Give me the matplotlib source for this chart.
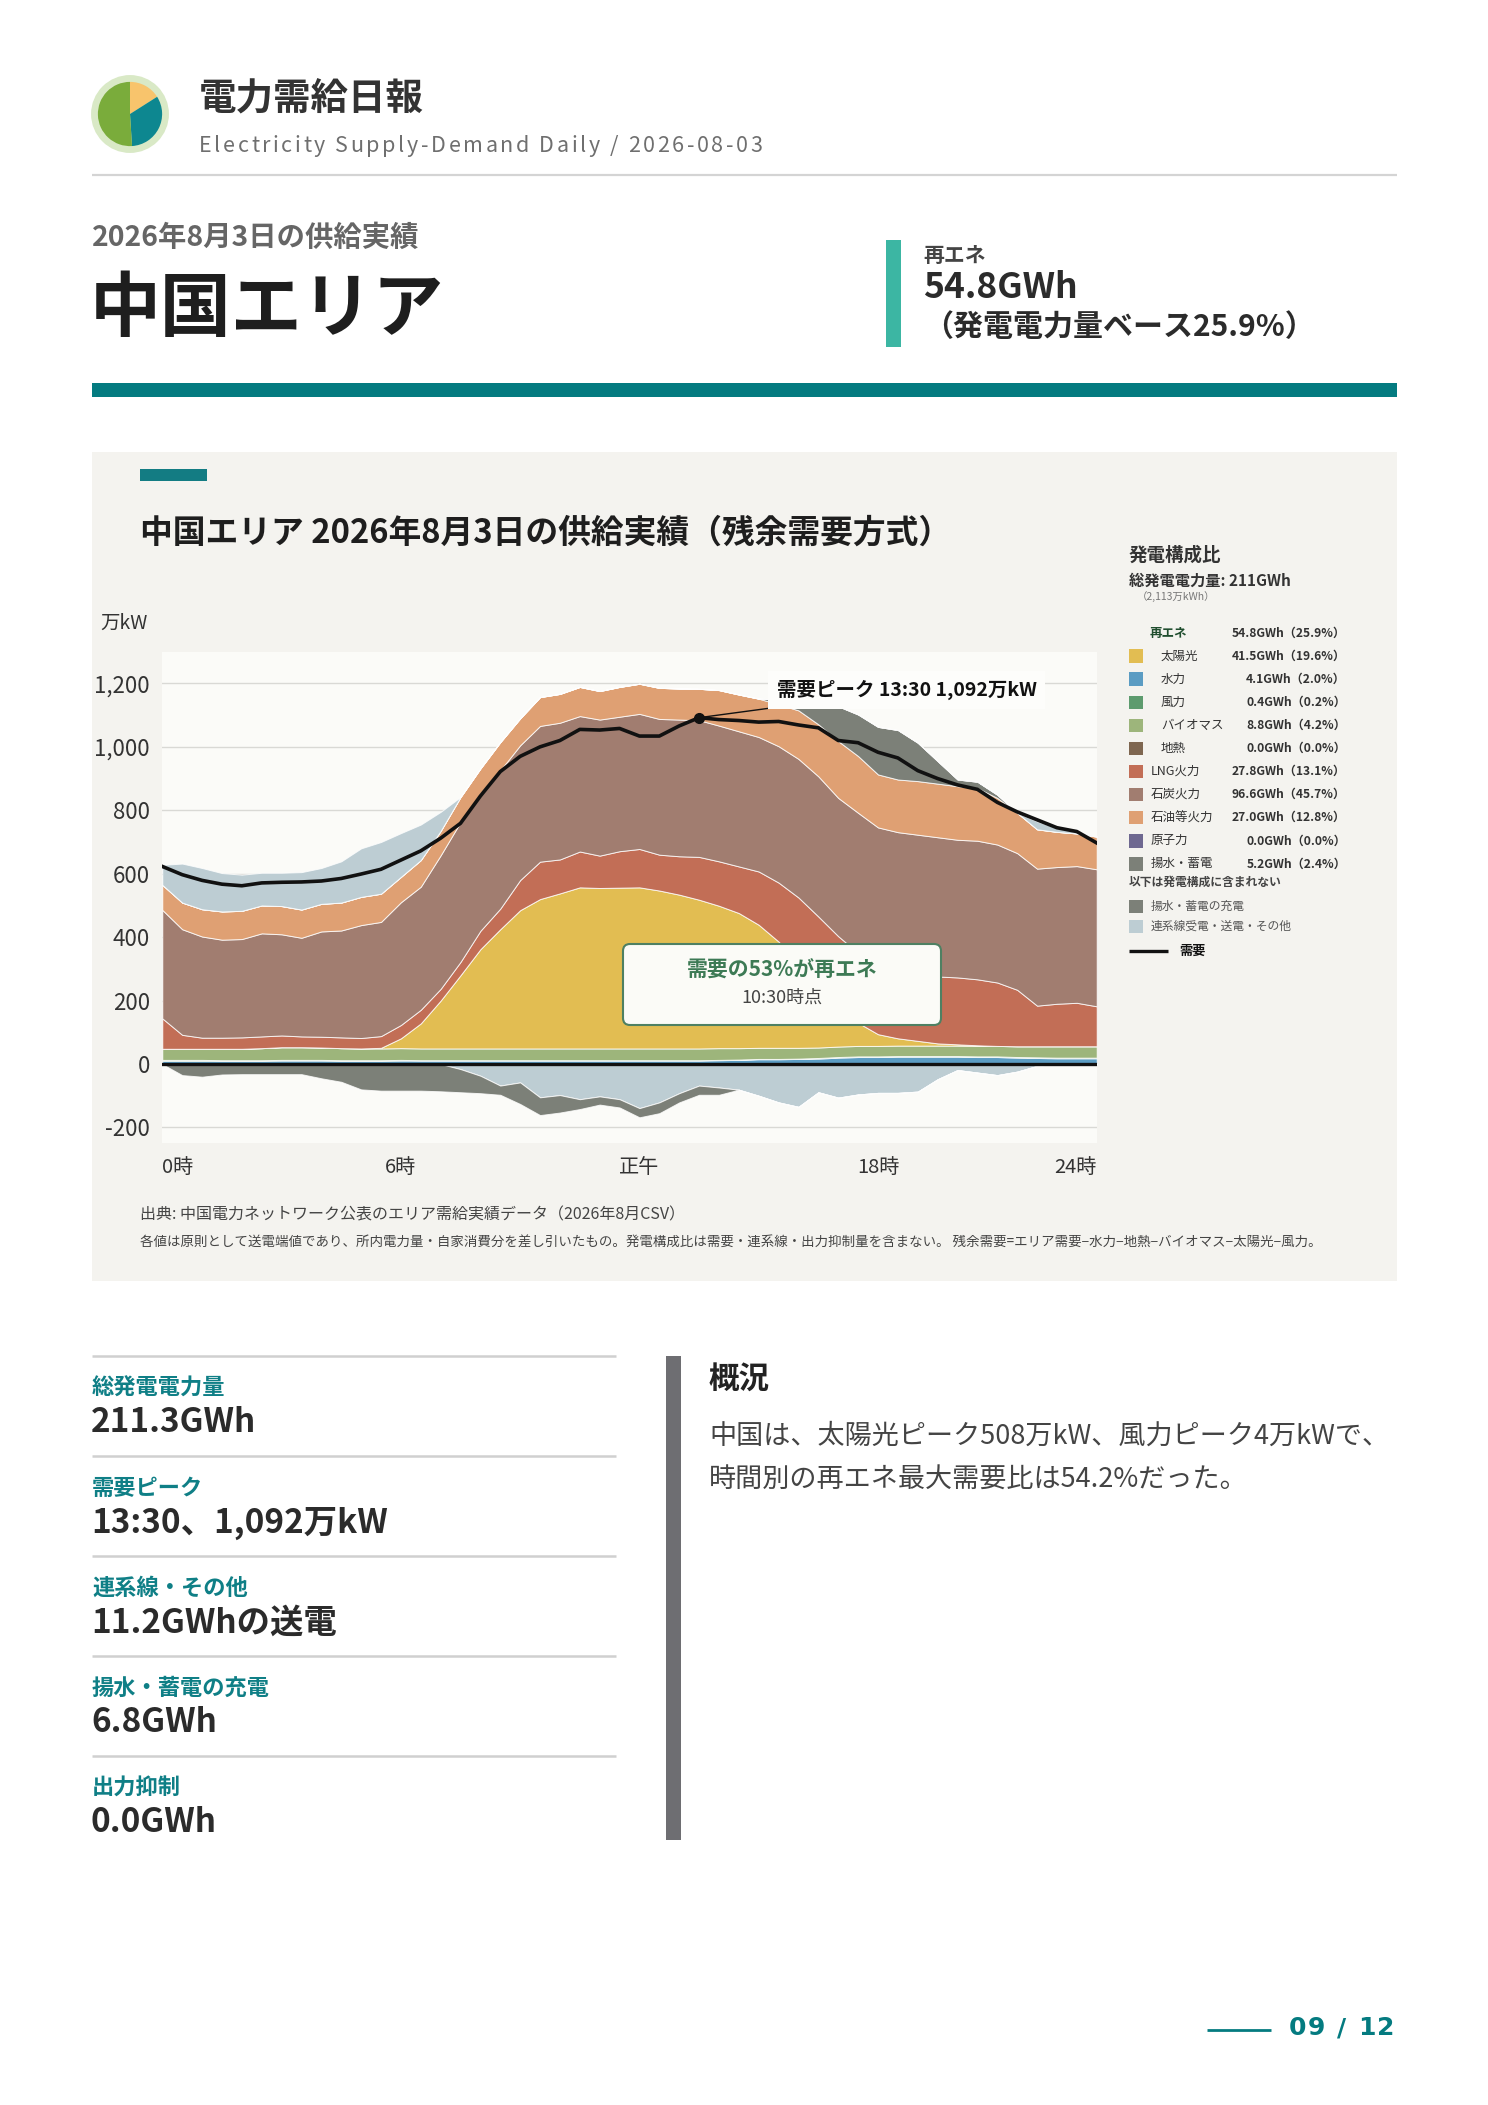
import numpy as np
import matplotlib
matplotlib.use("Agg")
import matplotlib.pyplot as plt
from matplotlib.patches import Rectangle, FancyBboxPatch, Circle
from matplotlib.lines import Line2D
from matplotlib.transforms import IdentityTransform

plt.rcParams['font.family'] = ['Noto Sans CJK JP', 'DejaVu Sans']

# ---------------------------------------------------------------------
# データ (万kW, 30分値 0:00〜23:30)
# ---------------------------------------------------------------------
demand = [623, 597, 579, 567, 562, 571, 573, 574, 577, 585, 599, 614,
          643, 672, 712, 759, 845, 922, 970, 1000, 1020, 1055, 1053, 1058,
          1034, 1034, 1066, 1092, 1086, 1083, 1078, 1080, 1069, 1060, 1020, 1013,
          983, 965, 925, 900, 880, 866, 825, 795, 770, 745, 733, 697]

hydro = [10, 10, 10, 10, 10, 10, 11, 11, 11, 10, 10, 10,
         11, 11, 11, 11, 11, 11, 11, 11, 11, 11, 11, 11,
         11, 11, 11, 11, 12, 13, 15, 15, 16, 17, 20, 22,
         22, 23, 23, 23, 23, 22, 22, 20, 19, 18, 18, 18]
wind = [3, 3, 3, 2, 2, 2, 2, 2, 2, 2, 2, 2,
        2, 1, 1, 1, 1, 1, 1, 1, 1, 1, 1, 1,
        1, 1, 1, 1, 1, 1, 1, 1, 1, 2, 2, 2,
        2, 2, 2, 2, 2, 2, 2, 2, 2, 2, 2, 2]
biomass = [35, 35, 35, 36, 36, 38, 40, 40, 39, 38, 37, 37,
           37, 37, 37, 37, 37, 37, 37, 37, 37, 37, 37, 37,
           37, 37, 37, 37, 37, 36, 35, 35, 34, 33, 33, 33,
           33, 33, 33, 33, 33, 33, 33, 34, 35, 36, 36, 36]
geothermal = [0] * 48
solar = [0, 0, 0, 0, 0, 0, 0, 0, 0, 0, 0, 2,
         31, 79, 151, 231, 313, 376, 436, 471, 489, 508, 506, 507,
         508, 498, 485, 469, 449, 426, 388, 335, 269, 198, 130, 73,
         37, 23, 15, 7, 4, 2, 0, 0, 0, 0, 0, 0]
lng = [96, 44, 35, 35, 36, 37, 37, 34, 34, 34, 33, 37,
       42, 43, 37, 42, 58, 65, 95, 118, 107, 113, 102, 115,
       121, 113, 121, 135, 140, 147, 168, 186, 205, 215, 218, 220,
       221, 214, 210, 211, 211, 208, 200, 178, 128, 134, 137, 126]
coal = [342, 333, 319, 309, 310, 325, 319, 311, 332, 337, 356, 360,
        387, 388, 421, 441, 434, 436, 425, 428, 431, 427, 429, 424,
        426, 428, 431, 431, 428, 426, 424, 430, 437, 442, 436, 442,
        431, 436, 440, 439, 434, 437, 435, 431, 432, 431, 431, 432]
oil = [79, 84, 86, 89, 89, 88, 89, 89, 87, 88, 89, 89,
       80, 84, 77, 79, 78, 89, 85, 91, 91, 92, 90, 94,
       95, 98, 98, 99, 112, 116, 121, 132, 153, 164, 179, 179,
       167, 166, 169, 169, 169, 166, 147, 127, 124, 111, 103, 103]
nuclear = [0] * 48
pump_gen = [0, 0, 0, 0, 0, 0, 0, 0, 0, 0, 0, 0,
            0, 0, 0, 0, 0, 0, 0, 0, 0, 0, 0, 0,
            0, 0, 0, 0, 0, 0, 0, 15, 89, 78, 110, 131,
            150, 156, 121, 71, 21, 20, 10, 0, 0, 0, 0, 0]
link_in = [63, 123, 130, 121, 114, 103, 105, 118, 113, 130, 153, 163,
           138, 112, 60, 0, 0, 0, 0, 0, 0, 0, 0, 0,
           0, 0, 0, 0, 0, 0, 0, 0, 0, 0, 0, 0,
           0, 0, 0, 0, 0, 0, 0, 0, 25, 12, 5, 0]
link_out = [0, 0, 0, 0, 0, 0, 0, 0, 0, 0, 0, 0,
            0, 0, 0, -16, -37, -68, -58, -105, -98, -111, -102, -111,
            -139, -121, -92, -68, -74, -81, -100, -121, -135, -89, -106, -96,
            -91, -91, -87, -48, -19, -27, -35, -24, -6, 0, 0, 0]
pump_charge = [0, -35, -40, -33, -32, -32, -32, -32, -45, -56, -80, -84,
               -84, -84, -86, -73, -55, -29, -68, -56, -55, -31, -26, -26,
               -29, -34, -29, -29, -23, 0, 0, 0, 0, 0, 0, 0,
               0, 0, 0, 0, 0, 0, 0, 0, 0, 0, 0, 0]

tick_idx = [0, 12, 24, 36, 47]
tick_labels = ['0時', '6時', '正午', '18時', '24時']
y_ticks = [-200, 0, 200, 400, 600, 800, 1000, 1200]

legend_names = ['太陽光', '水力', '風力', 'バイオマス', '地熱',
                'LNG火力', '石炭火力', '石油等火力', '原子力', '揚水・蓄電']
legend_values = ['41.5GWh（19.6%）', '4.1GWh（2.0%）', '0.4GWh（0.2%）',
                 '8.8GWh（4.2%）', '0.0GWh（0.0%）', '27.8GWh（13.1%）',
                 '96.6GWh（45.7%）', '27.0GWh（12.8%）', '0.0GWh（0.0%）',
                 '5.2GWh（2.4%）']
legend_renew = [True, True, True, True, True, False, False, False, False, False]

kpi_labels = ['総発電電力量', '需要ピーク', '連系線・その他', '揚水・蓄電の充電', '出力抑制']
kpi_values = ['211.3GWh', '13:30、1,092万kW', '11.2GWhの送電', '6.8GWh', '0.0GWh']

logo_share = [16, 33, 51]

# 色
C_SOLAR = '#e2bd52'
C_HYDRO = '#5b9cc3'
C_WIND = '#5d9b6e'
C_BIO = '#9db57b'
C_GEO = '#7e6650'
C_LNG = '#c26e56'
C_COAL = '#a17d70'
C_OIL = '#dfa073'
C_NUC = '#6e6890'
C_PUMP = '#7c8078'
C_LINK = '#bdcdd3'
TEAL = '#047b80'

legend_colors = [C_SOLAR, C_HYDRO, C_WIND, C_BIO, C_GEO,
                 C_LNG, C_COAL, C_OIL, C_NUC, C_PUMP]

# ---------------------------------------------------------------------
# ページ
# ---------------------------------------------------------------------
W, H = 1488, 2105
fig = plt.figure(figsize=(W / 100, H / 100), dpi=100)
fig.patch.set_facecolor('white')
PX = IdentityTransform()


def fx(x):
    return x / W


def fy(y):
    return 1 - y / H


def put(x, y, s, size, color='#333333', weight='normal', ha='left', va='center', **kw):
    return fig.text(fx(x), fy(y), s, fontsize=size, color=color,
                    fontweight=weight, ha=ha, va=va, **kw)


def rect(x0, y0, x1, y1, color, z=0):
    fig.add_artist(Rectangle((x0, H - y1), x1 - x0, y1 - y0, transform=PX,
                             facecolor=color, edgecolor='none', zorder=z))


def hline(x0, x1, y, color, lw, z=1):
    fig.add_artist(Line2D([x0, x1], [H - y, H - y], transform=PX,
                          color=color, lw=lw, zorder=z, solid_capstyle='butt'))


def tracked(x, y, s, size, spacing, color, weight='normal', family=None):
    # 字間を空けて1文字ずつ配置
    r = fig.canvas.get_renderer()
    kw = dict(fontsize=size, fontweight=weight)
    if family:
        kw['family'] = family
    ref = fig.text(0, 0, '|', **kw)
    w_ref = ref.get_window_extent(renderer=r).width
    ref.remove()
    for k, ch in enumerate(s):
        if ch == ' ':
            continue
        probe = fig.text(0, 0, s[:k] + '|', **kw)
        w = probe.get_window_extent(renderer=r).width - w_ref if k else 0
        probe.remove()
        put(x + w + k * spacing, y, ch, size, color=color, weight=weight,
            **({'family': family} if family else {}))


# ロゴ
lax = fig.add_axes([fx(91), fy(153), 78 / W, 78 / H])
lax.set_aspect('equal')
lax.axis('off')
lax.add_patch(Circle((0, 0), 1.0, color='#d9e9c6'))
lax.pie(logo_share, colors=['#f8c46c', '#0d8790', '#7aac3b'], radius=0.84,
        startangle=90, counterclock=False, wedgeprops=dict(linewidth=0))
lax.set_xlim(-1.02, 1.02)
lax.set_ylim(-1.02, 1.02)

put(199, 98, '電力需給日報', 27, '#333333', 'bold')
tracked(199, 146, 'Electricity Supply-Demand Daily / 2026-08-03', 15.5, 2.6, '#6f6f6f')
hline(92, 1397, 175, '#d4d4d4', 1.6)

put(92, 238, '2026年8月3日の供給実績', 20.4, '#666666', 'bold')
put(90, 310, '中国エリア', 51, '#1e1e1e', 'bold')

rect(886, 240, 901, 347, '#3cb6a3')
put(923, 255, '再エネ', 15, '#444444', 'bold')
put(923, 288, '54.8GWh', 25.5, '#2b2b2b', 'bold')
put(923, 327, '（発電電力量ベース25.9%）', 21.6, '#2b2b2b', 'bold')

rect(92, 383, 1397, 397, TEAL)

# チャートカード
rect(92, 452, 1397, 1281, '#f4f3ef', z=-5)
rect(140, 469, 207, 481, '#137c83')
put(140, 533, '中国エリア 2026年8月3日の供給実績（残余需要方式）', 23.6, '#1e1e1e', 'bold')
put(100, 623, '万kW', 14, '#333333')

ax = fig.add_axes([fx(162.3), fy(1143.3), (1096.7 - 162.3) / W, (1143.3 - 651.7) / H])
ax.set_facecolor('#fbfbf8')
n = len(demand)
x = np.arange(n)

edge = (1, 1, 1, 0.8)
pos_layers = [(hydro, C_HYDRO), (wind, C_WIND), (biomass, C_BIO), (geothermal, C_GEO),
              (solar, C_SOLAR), (lng, C_LNG), (coal, C_COAL), (oil, C_OIL),
              (nuclear, C_NUC), (pump_gen, C_PUMP), (link_in, C_LINK)]
base = np.zeros(n)
for vals, col in pos_layers:
    top = base + np.asarray(vals, dtype=float)
    if np.any(top > base):
        ax.fill_between(x, base, top, facecolor=col, edgecolor=edge, lw=0.7, zorder=2)
    base = top

base = np.zeros(n)
for vals, col in [(link_out, C_LINK), (pump_charge, C_PUMP)]:
    bot = base + np.asarray(vals, dtype=float)
    ax.fill_between(x, bot, base, facecolor=col, edgecolor=edge, lw=0.7, zorder=2)
    base = bot

ax.axhline(0, color='#111111', lw=2.4, zorder=4)
ax.plot(x, demand, color='#111111', lw=2.6, zorder=5, solid_joinstyle='round')

pk = int(np.argmax(demand))
pk_time = f'{pk // 2}:{(pk % 2) * 30:02d}'
ax.plot(pk, demand[pk], 'o', color='#111111', ms=7, zorder=6)
ax.annotate(f'需要ピーク {pk_time} {demand[pk]:,}万kW', xy=(pk, demand[pk]),
            xytext=(30.9, 1180), ha='left', va='center', fontsize=14,
            fontweight='bold', color='#111111', zorder=7,
            bbox=dict(boxstyle='square,pad=0.45', facecolor='#fdfdfb', edgecolor='none'),
            arrowprops=dict(arrowstyle='-', color='#111111', lw=1.0,
                            shrinkA=0, shrinkB=0))

ax.set_xlim(0, n - 1)
ax.set_ylim(-250, 1300)
ax.set_yticks(y_ticks)
ax.set_yticklabels([f'{v:,}' for v in y_ticks])
ax.set_xticks(tick_idx)
ax.set_xticklabels(tick_labels)
xl = ax.get_xticklabels()
xl[0].set_ha('left')
xl[-1].set_ha('right')
ax.tick_params(axis='both', length=0, labelsize=14.5, colors='#333333')
ax.tick_params(axis='y', pad=9, labelsize=16)
ax.tick_params(axis='x', pad=10)
ax.grid(axis='y', color='#d9d9d5', lw=1.0)
ax.set_axisbelow(True)
for sp in ax.spines.values():
    sp.set_visible(False)

# 吹き出し
fig.add_artist(FancyBboxPatch((623, H - 1025), 318, 81, transform=PX,
                              boxstyle='round,pad=0,rounding_size=7',
                              facecolor='#fbfbf7', edgecolor='#4e8062', lw=1.5, zorder=10))
put(782, 970, '需要の53%が再エネ', 15, '#3d7a55', 'bold', ha='center', zorder=11)
put(782, 998, '10:30時点', 13, '#444444', ha='center', zorder=11)

# 凡例
put(1129, 555, '発電構成比', 13.3, '#333333', 'bold')
put(1129, 580.5, '総発電電力量: 211GWh', 11, '#333333', 'bold')
put(1137, 597, '（2,113万kWh）', 7.5, '#777777')
put(1150, 633, '再エネ', 9, '#1f4d2e', 'bold')
put(1346, 633, '54.8GWh（25.9%）', 8.7, '#333333', 'bold', ha='right')
for k, (name, val, col, ren) in enumerate(zip(legend_names, legend_values,
                                              legend_colors, legend_renew)):
    yy = 656 + 23.1 * k
    rect(1129, yy - 6.7, 1142.5, yy + 6.7, col)
    put(1161 if ren else 1151, yy, name, 9, '#333333')
    put(1346, yy, val, 8.7, '#333333', 'bold', ha='right')
put(1129, 882, '以下は発電構成に含まれない', 8.5, '#444444', 'bold')
for yy, name, col in [(906, '揚水・蓄電の充電', C_PUMP), (926, '連系線受電・送電・その他', C_LINK)]:
    rect(1129, yy - 6.5, 1142.5, yy + 6.5, col)
    put(1151, yy, name, 8.5, '#555555')
hline(1129, 1168, 951, '#111111', 2.4, z=3)
put(1179, 951, '需要', 9.5, '#111111', 'bold')

put(140, 1215, '出典: 中国電力ネットワーク公表のエリア需給実績データ（2026年8月CSV）', 11.5, '#444444')
put(140, 1243, '各値は原則として送電端値であり、所内電力量・自家消費分を差し引いたもの。'
               '発電構成比は需要・連系線・出力抑制量を含まない。 '
               '残余需要=エリア需要−水力−地熱−バイオマス−太陽光−風力。', 9.7, '#444444')

# 下段 KPI
for k, (lab, val) in enumerate(zip(kpi_labels, kpi_values)):
    y0 = 1356 + 100 * k
    hline(92, 616, y0, '#d0d0d0', 1.8)
    put(92, y0 + 32, lab, 16, '#0f7f86', 'bold')
    put(91, y0 + 67, val, 24, '#2b2b2b', 'bold')

rect(666, 1356, 681, 1840, '#6e6e72')
put(709, 1380, '概況', 22, '#222222', 'bold')
put(709, 1436, '中国は、太陽光ピーク508万kW、風力ピーク4万kWで、', 19.5, '#444444')
put(709, 1480, '時間別の再エネ最大需要比は54.2%だった。', 19.5, '#444444')

hline(1207, 1271, 2030, TEAL, 2.0)
tracked(1289, 2028, '09 / 12', 18, 1.5, TEAL, weight='bold', family='DejaVu Sans')

fig.savefig('out.png', dpi=100, facecolor='white')
